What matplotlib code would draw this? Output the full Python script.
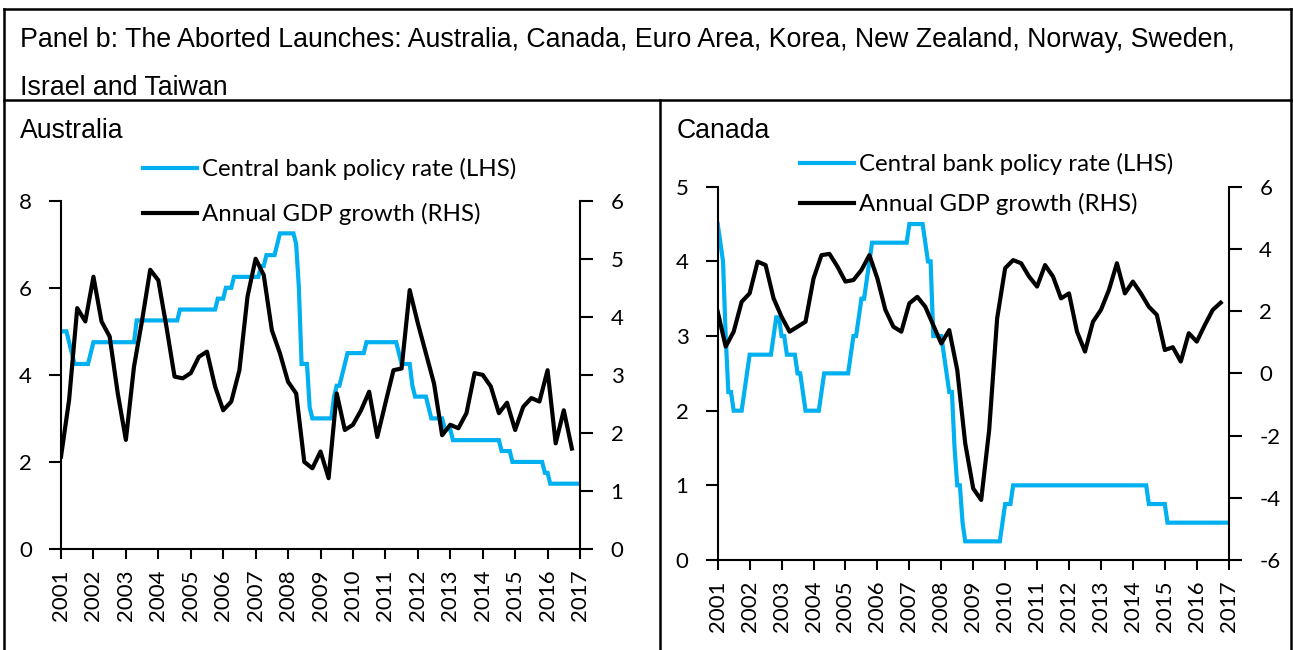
import numpy as np
import matplotlib
matplotlib.use("Agg")
import matplotlib.pyplot as plt
from matplotlib.lines import Line2D

plt.rcParams['font.family'] = 'Lato'
plt.rcParams['axes.unicode_minus'] = False

BLUE = '#00B0F0'
W, H = 1293, 650

title_lines = ["Panel b: The Aborted Launches: Australia, Canada, Euro Area, Korea, "
               "New Zealand, Norway, Sweden,",
               "Israel and Taiwan"]
years = list(range(2001, 2018))
legend_labels = ["Central bank policy rate (LHS)", "Annual GDP growth (RHS)"]

# policy rates, monthly Jan 2001 .. Jan 2017
aus_rate = ([5.0]*3 + [4.75, 4.5] + [4.25]*6 + [4.5] + [4.75]*16 + [5.25]*16 + [5.5]*14
            + [5.75]*3 + [6.0]*3 + [6.25]*10 + [6.5]*2 + [6.75]*4 + [7.0] + [7.25]*6
            + [7.0, 6.0] + [4.25]*3 + [3.25] + [3.0]*8 + [3.5] + [3.75]*2 + [4.0, 4.25]
            + [4.5]*7 + [4.75]*12 + [4.5] + [4.25]*4 + [3.75] + [3.5]*5 + [3.25]
            + [3.0]*5 + [2.75]*3 + [2.5]*18 + [2.25]*4 + [2.0]*12 + [1.75]*2 + [1.5]*12)
can_rate = ([4.5, 4.25, 4.0, 3.0, 2.25, 2.25] + [2.0]*4 + [2.25, 2.5] + [2.75]*9 + [3.0]
            + [3.25]*2 + [3.0]*2 + [2.75]*4 + [2.5]*2 + [2.25] + [2.0]*6 + [2.25] + [2.5]*10
            + [2.75, 3.0, 3.0, 3.25, 3.5, 3.5, 3.75, 4.0] + [4.25]*14 + [4.5]*6
            + [4.25, 4.0, 4.0] + [3.0]*4 + [2.75, 2.5, 2.25, 2.25, 1.5, 1.0, 1.0, 0.5]
            + [0.25]*14 + [0.5, 0.75, 0.75, 0.75] + [1.0]*51 + [0.75]*7 + [0.5]*24)

# annual GDP growth, quarterly 2001Q1 .. 2016Q4
aus_gdp = [1.59, 2.57, 4.15, 3.92, 4.69, 3.92, 3.66, 2.68, 1.88, 3.14, 3.94, 4.81,
           4.63, 3.83, 2.97, 2.94, 3.03, 3.31, 3.40, 2.80, 2.39, 2.54, 3.08, 4.35,
           5.00, 4.72, 3.77, 3.37, 2.88, 2.68, 1.50, 1.39, 1.68, 1.22, 2.68, 2.05,
           2.14, 2.39, 2.71, 1.93, 2.51, 3.08, 3.11, 4.46, 3.89, 3.37, 2.85, 1.96,
           2.14, 2.08, 2.34, 3.03, 3.00, 2.80, 2.34, 2.52, 2.05, 2.45, 2.60, 2.54,
           3.08, 1.82, 2.39, 1.73]
can_gdp = [1.98, 0.86, 1.34, 2.30, 2.57, 3.59, 3.48, 2.41, 1.82, 1.34, 1.50, 1.66,
           3.05, 3.80, 3.84, 3.43, 2.95, 3.00, 3.32, 3.80, 3.05, 2.04, 1.50, 1.34,
           2.25, 2.46, 2.14, 1.55, 0.96, 1.39, 0.11, -2.25, -3.70, -4.07, -1.82, 1.77,
           3.38, 3.64, 3.54, 3.11, 2.79, 3.48, 3.11, 2.41, 2.57, 1.34, 0.70, 1.66,
           2.04, 2.68, 3.54, 2.57, 2.95, 2.57, 2.14, 1.88, 0.75, 0.84, 0.38, 1.29,
           1.02, 1.55, 2.04, 2.27]

fig = plt.figure(figsize=(W/100, H/100), dpi=100)


def px(x0, y0, x1, y1):
    return [x0/W, 1 - y1/H, (x1 - x0)/W, (y1 - y0)/H]


def panel(rect, name, name_x, rate, gdp, lticks, rticks, leg_xy, leg_space):
    ax = fig.add_axes(rect)
    ax2 = ax.twinx()
    tm = 2001 + np.arange(len(rate))/12
    tq = 2001 + np.arange(len(gdp))/4
    h1, = ax.plot(tm, rate, color=BLUE, lw=3, solid_joinstyle='miter')
    h2, = ax2.plot(tq, gdp, color='black', lw=3)
    ax.set_xlim(years[0], years[-1])
    ax.set_ylim(lticks[0], lticks[-1])
    ax2.set_ylim(rticks[0], rticks[-1])
    ax.set_yticks(lticks)
    ax2.set_yticks(rticks)
    ax.set_xticks(years)
    ax.set_xticklabels([str(y) for y in years], rotation=90)
    for a in (ax, ax2):
        a.patch.set_visible(False)
        a.spines['top'].set_visible(False)
        for s in a.spines.values():
            s.set_linewidth(1.5)
    ax.spines['right'].set_visible(False)
    ax2.spines['left'].set_visible(False)
    ax2.spines['bottom'].set_visible(False)
    ax.tick_params(axis='y', length=9, width=1.5, pad=12, labelsize=16)
    ax2.tick_params(axis='y', length=9, width=1.5, pad=13, labelsize=16)
    ax.tick_params(axis='x', length=7, width=1.5, pad=8, labelsize=16)
    ax.legend([h1, h2], legend_labels, loc='upper left', frameon=False,
              bbox_to_anchor=(leg_xy[0]/W, 1 - leg_xy[1]/H), bbox_transform=fig.transFigure,
              borderpad=0, borderaxespad=0, handlelength=2.25, handletextpad=0.2,
              labelspacing=leg_space, fontsize=17.3)
    fig.text(name_x/W, 1 - 138/H, name, family='Liberation Sans', fontsize=19.2,
             va='baseline', ha='left')


panel(px(61, 200.7, 580, 549), "Australia", 20, aus_rate, aus_gdp,
      [0, 2, 4, 6, 8], [0, 1, 2, 3, 4, 5, 6], (143, 158), 0.96)
panel(px(717.7, 186.7, 1228.7, 560), "Canada", 677, can_rate, can_gdp,
      [0, 1, 2, 3, 4, 5], [-6, -4, -2, 0, 2, 4, 6], (800, 153), 0.76)

for line, base in zip(title_lines, [47, 95]):
    fig.text(20/W, 1 - base/H, line, family='Liberation Sans', fontsize=19.3,
             va='baseline', ha='left')

# frame around the panel
for (x0, y0, x1, y1) in [(3.5, 9, 1291, 9), (3.5, 100, 1291, 100), (3.5, 9, 3.5, 650),
                         (1291, 9, 1291, 650), (660.5, 100, 660.5, 650)]:
    fig.add_artist(Line2D([x0/W, x1/W], [1 - y0/H, 1 - y1/H], color='black', lw=1.8))

fig.savefig("out.png", dpi=100)
